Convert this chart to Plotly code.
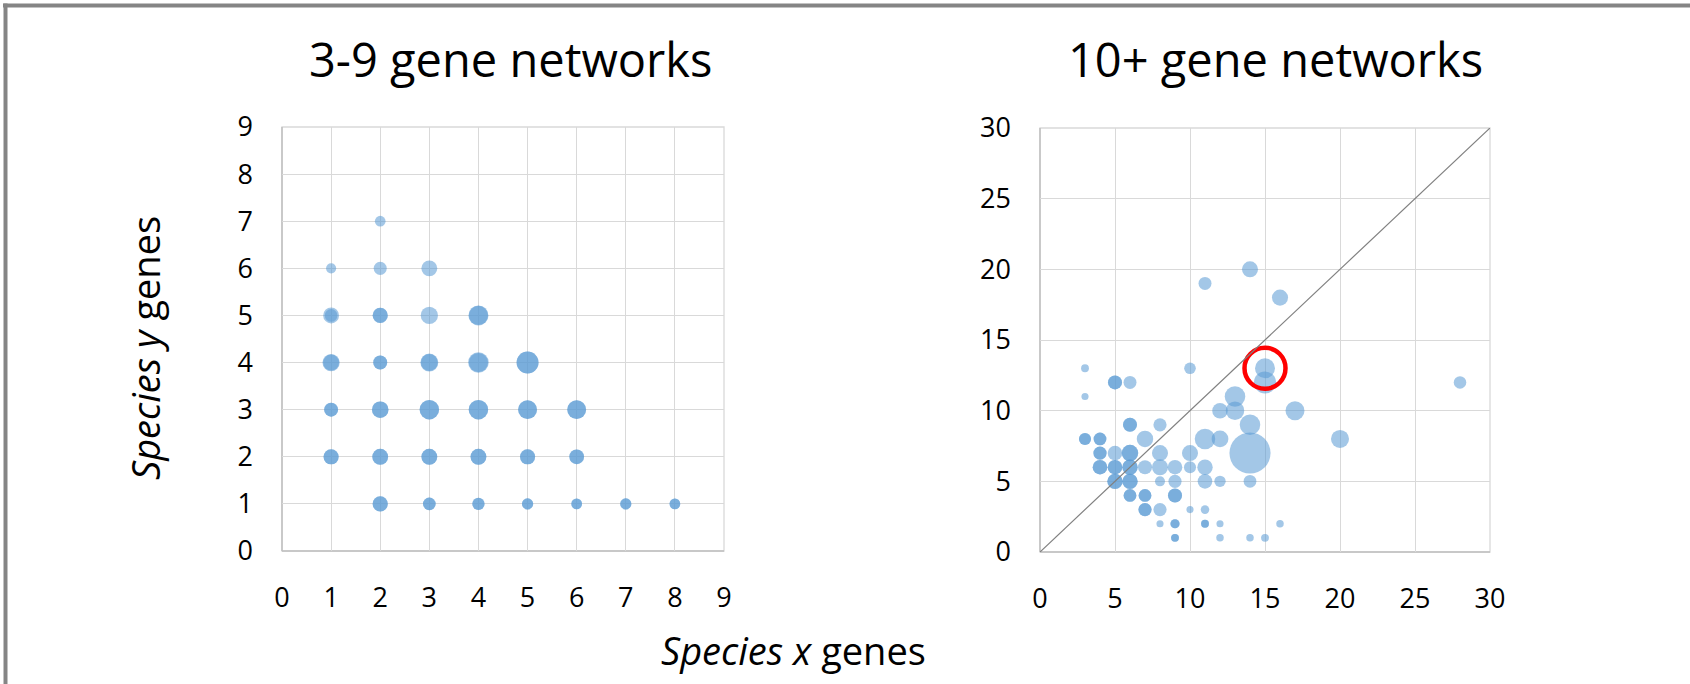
import plotly.graph_objects as go

# ---------------- data ----------------
# Left panel: 3-9 gene networks (x genes, y genes, bubble value, number of stacked bubbles)
left_x = [2, 1, 2, 3, 1, 1, 2, 3, 4, 4, 1, 1, 2, 3, 3, 4, 4, 5,
          1, 2, 3, 4, 5, 6, 1, 2, 3, 4, 5, 6, 2, 3, 4, 5, 6, 7, 8]
left_y = [7, 6, 6, 6, 5, 5, 5, 5, 5, 5, 4, 4, 4, 4, 4, 4, 4, 4,
          3, 3, 3, 3, 3, 3, 2, 2, 2, 2, 2, 2, 1, 1, 1, 1, 1, 1, 1]
left_v = [1.0, 0.9, 1.5, 2.2, 2.2, 1.4, 2.0, 2.6, 3.5, 3.2, 2.6, 2.2, 1.7, 2.8, 2.5, 3.7, 3.2, 4.2,
          1.7, 2.4, 3.3, 3.3, 3.1, 3.1, 2.0, 2.2, 2.2, 2.2, 2.0, 1.9, 2.0, 1.4, 1.3, 1.1, 1.0, 1.1, 1.0]
left_n = [1, 1, 1, 1, 1, 1, 2, 1, 1, 1, 1, 1, 2, 1, 1, 1, 1, 2,
          2, 2, 2, 2, 2, 2, 2, 2, 2, 2, 2, 2, 2, 2, 2, 2, 2, 2, 2]

# Right panel: 10+ gene networks
right_x = [3, 3, 5, 6, 10, 11, 14, 16, 15, 15, 28, 13, 12, 13, 17, 14, 20, 11, 12, 14,
           7, 6, 8, 3, 4, 4, 5, 6, 8, 10, 4, 5, 6, 7, 8, 9, 10, 11,
           5, 6, 8, 9, 11, 12, 14, 6, 7, 9, 7, 8, 10, 11, 8, 9, 11, 12, 16, 9, 12, 14, 15]
right_y = [13, 11, 12, 12, 13, 19, 20, 18, 13, 12, 12, 11, 10, 10, 10, 9, 8, 8, 8, 7,
           8, 9, 9, 8, 8, 7, 7, 7, 7, 7, 6, 6, 6, 6, 6, 6, 6, 6,
           5, 5, 5, 5, 5, 5, 5, 4, 4, 4, 3, 3, 3, 3, 2, 2, 2, 2, 2, 1, 1, 1, 1]
right_v = [1.1, 0.9, 3.5, 3.0, 2.4, 3.0, 4.6, 4.6, 7.1, 8.6, 2.8, 7.5, 4.3, 6.1, 6.4, 7.5, 5.8, 7.5, 5.0, 30.0,
           4.8, 3.5, 3.1, 2.6, 2.9, 3.1, 3.8, 4.8, 4.6, 4.6, 3.8, 3.8, 4.2, 3.5, 4.6, 3.8, 2.6, 4.2,
           4.2, 4.2, 1.8, 3.1, 3.8, 2.3, 2.9, 2.9, 2.9, 3.5, 3.1, 3.1, 0.9, 1.3, 0.9, 1.5, 1.1, 0.9, 1.0, 1.1, 1.0, 1.0, 1.1]
right_n = [1, 1, 2, 1, 1, 1, 1, 1, 1, 1, 1, 1, 1, 1, 1, 1, 1, 1, 1, 1,
           1, 2, 1, 2, 2, 2, 1, 2, 1, 1, 2, 2, 2, 1, 1, 1, 1, 1,
           2, 2, 1, 1, 1, 1, 1, 2, 2, 2, 2, 1, 1, 1, 1, 2, 2, 1, 1, 2, 1, 1, 1]

highlight_x = [15]
highlight_y = [13]

left_ticks = list(range(0, 10))
right_ticks = list(range(0, 31, 5))

left_title = "3-9 gene networks"
right_title = "10+ gene networks"
x_title = "<i>Species x</i> genes"
y_title = "<i>Species y</i> genes"

# ---------------- styling ----------------
W, H = 1690, 684
FONT = "Open Sans"
BUBBLE = "rgba(91,155,213,0.8)"
GRID = "#D9D9D9"
AXLINE = "#BFBFBF"
FRAME = "#858585"


def px(x):
    """page pixel -> paper fraction"""
    return x / W


def py(y):
    return 1 - y / H


def expand(xs, ys, vs, ns):
    ox, oy, ov = [], [], []
    for x, y, v, n in zip(xs, ys, vs, ns):
        for _ in range(n):
            ox.append(x)
            oy.append(y)
            ov.append(v)
    return ox, oy, ov


fig = go.Figure()

lx, ly, lv = expand(left_x, left_y, left_v, left_n)
rx, ry, rv = expand(right_x, right_y, right_v, right_n)

k_left = 10.7   # px diameter for bubble value 1
k_right = 7.5

fig.add_trace(go.Scatter(
    x=lx, y=ly, mode="markers", xaxis="x", yaxis="y",
    marker=dict(size=lv, sizemode="area", sizeref=2 / k_left ** 2,
                color=BUBBLE, line=dict(width=0)),
    showlegend=False, hoverinfo="x+y"))

fig.add_trace(go.Scatter(
    x=rx, y=ry, mode="markers", xaxis="x2", yaxis="y2",
    marker=dict(size=rv, sizemode="area", sizeref=2 / k_right ** 2,
                color=BUBBLE, line=dict(width=0)),
    showlegend=False, hoverinfo="x+y"))

fig.add_trace(go.Scatter(
    x=highlight_x, y=highlight_y, mode="markers", xaxis="x2", yaxis="y2",
    marker=dict(symbol="circle-open", size=41, color="#FF0000",
                line=dict(width=4.5, color="#FF0000")),
    showlegend=False, hoverinfo="skip"))

axis_common = dict(showgrid=True, gridcolor=GRID, gridwidth=1.3, zeroline=False,
                   showline=False, ticks="", ticklabelstandoff=28, automargin=False,
                   tickfont=dict(family=FONT, size=27, color="#000000"))

fig.update_layout(
    width=W, height=H, autosize=False,
    margin=dict(l=0, r=0, t=0, b=0, pad=0),
    paper_bgcolor="white", plot_bgcolor="white",
    showlegend=False,
    xaxis=dict(domain=[px(282), px(724)], range=[left_ticks[0], left_ticks[-1]],
               tickvals=left_ticks, anchor="y", **axis_common),
    yaxis=dict(domain=[py(551), py(127)], range=[left_ticks[0], left_ticks[-1]],
               tickvals=left_ticks, anchor="x", **axis_common),
    xaxis2=dict(domain=[px(1040), px(1490)], range=[right_ticks[0], right_ticks[-1]],
                tickvals=right_ticks, anchor="y2", **axis_common),
    yaxis2=dict(domain=[py(552), py(128)], range=[right_ticks[0], right_ticks[-1]],
                tickvals=right_ticks, anchor="x2", **axis_common),
)

shapes = []
for xr, yr in (("x", "y"), ("x2", "y2")):
    shapes.append(dict(type="rect", xref=f"{xr} domain", yref=f"{yr} domain",
                       x0=0, x1=1, y0=0, y1=1, line=dict(color=GRID, width=1.3), layer="below"))
    shapes.append(dict(type="line", xref=f"{xr} domain", yref=f"{yr} domain",
                       x0=0, x1=0, y0=0, y1=1, line=dict(color=AXLINE, width=1.5), layer="below"))
    shapes.append(dict(type="line", xref=f"{xr} domain", yref=f"{yr} domain",
                       x0=0, x1=1, y0=0, y1=0, line=dict(color=AXLINE, width=1.5), layer="below"))
# y = x reference line on the right panel
shapes.append(dict(type="line", xref="x2", yref="y2",
                   x0=right_ticks[0], y0=right_ticks[0], x1=right_ticks[-1], y1=right_ticks[-1],
                   line=dict(color="#808080", width=1.2)))
# outer frame (top and left edges)
shapes.append(dict(type="line", xref="paper", yref="paper", x0=px(3), x1=1, y0=py(5.5), y1=py(5.5),
                   line=dict(color=FRAME, width=4)))
shapes.append(dict(type="line", xref="paper", yref="paper", x0=px(5.5), x1=px(5.5), y0=py(3.5), y1=0,
                   line=dict(color=FRAME, width=4)))
fig.update_layout(shapes=shapes)

annotations = [
    dict(text=left_title, x=px(510), y=py(59), xref="paper", yref="paper",
         showarrow=False, xanchor="center", yanchor="middle",
         font=dict(family=FONT, size=47, color="#000000")),
    dict(text=right_title, x=px(1275), y=py(59), xref="paper", yref="paper",
         showarrow=False, xanchor="center", yanchor="middle",
         font=dict(family=FONT, size=47, color="#000000")),
    dict(text=x_title, x=px(793), y=py(650), xref="paper", yref="paper",
         showarrow=False, xanchor="center", yanchor="middle",
         font=dict(family=FONT, size=38, color="#000000")),
    dict(text=y_title, x=px(145), y=py(348), xref="paper", yref="paper",
         showarrow=False, xanchor="center", yanchor="middle", textangle=-90,
         font=dict(family=FONT, size=38, color="#000000")),
]
fig.update_layout(annotations=annotations)

fig.write_html("out.html",
               config={"displayModeBar": False},
               post_script="document.body.style.margin='0px';document.body.style.overflow='hidden';")
